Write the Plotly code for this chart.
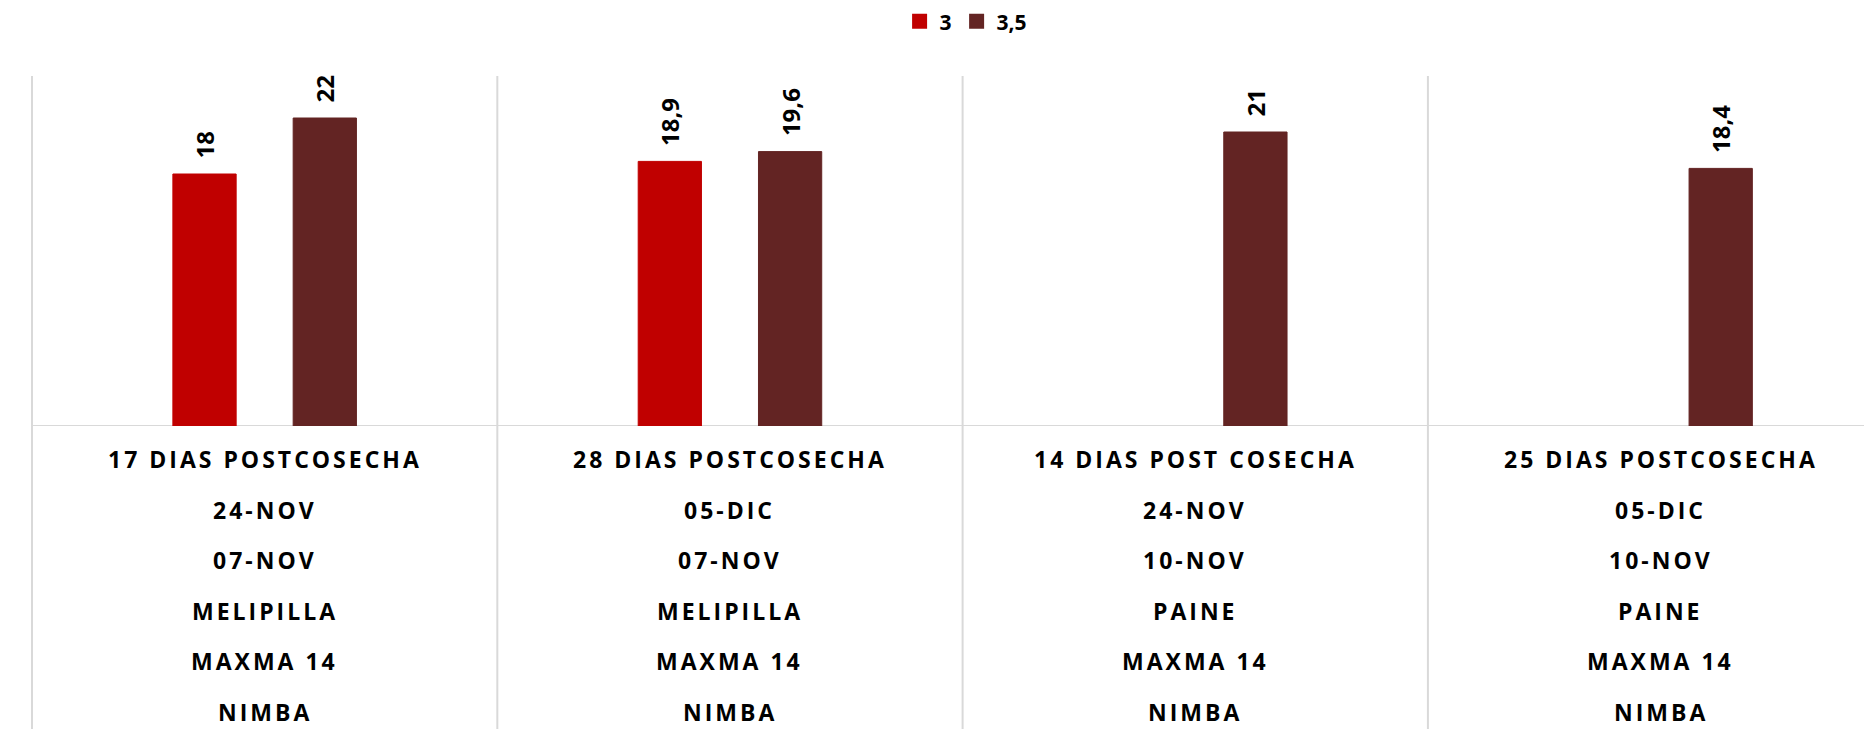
import plotly.graph_objects as go

# categorias (eje x) y filas de descripcion bajo cada grupo
categorias = ["17 DIAS POSTCOSECHA", "28 DIAS POSTCOSECHA", "14 DIAS POST COSECHA", "25 DIAS POSTCOSECHA"]
fecha_evaluacion = ["24-NOV", "05-DIC", "24-NOV", "05-DIC"]
fecha_cosecha = ["07-NOV", "07-NOV", "10-NOV", "10-NOV"]
localidad = ["MELIPILLA", "MELIPILLA", "PAINE", "PAINE"]
portainjerto = ["MAXMA 14", "MAXMA 14", "MAXMA 14", "MAXMA 14"]
variedad = ["NIMBA", "NIMBA", "NIMBA", "NIMBA"]

series_nombres = ["3", "3,5"]
valores_3 = [18, 18.9, None, None]
valores_35 = [22, 19.6, 21, 18.4]

colores = ["#C00000", "#632423"]
FONT = "Open Sans"


def etiqueta(v):
    if v is None:
        return ""
    # espacios al inicio para separar el texto de la barra
    return "\u00a0\u00a0" + f"{v:g}".replace(".", ",")


fig = go.Figure()
for nombre, valores, color in zip(series_nombres, [valores_3, valores_35], colores):
    fig.add_trace(go.Bar(
        x=categorias,
        y=valores,
        name=nombre,
        showlegend=False,
        marker=dict(color=color, line=dict(color=color, width=1)),
        text=[etiqueta(v) for v in valores],
        textposition="outside",
        textangle=-90,
        textfont=dict(family=FONT, size=24, color="black", weight="bold"),
        cliponaxis=False,
    ))
    # entrada de leyenda con cuadrado mas grande
    fig.add_trace(go.Scatter(
        x=[None], y=[None], mode="markers", name=nombre,
        marker=dict(symbol="square", size=15, color=color),
    ))

# lineas divisorias entre grupos (se extienden hasta el borde inferior)
linea = dict(color="#d9d9d9", width=2)
shapes = []
for i in range(len(categorias) + 1):
    shapes.append(dict(type="line", xref="x", yref="paper", x0=i - 0.5, x1=i - 0.5,
                       y0=-1, y1=1, line=linea, layer="below"))
shapes.append(dict(type="line", xref="x", yref="y", x0=-0.5, x1=len(categorias) - 0.5,
                   y0=0, y1=0, line=linea, layer="below"))

# filas de texto bajo el eje
filas = [categorias, fecha_evaluacion, fecha_cosecha, localidad, portainjerto, variedad]
annotations = []
for r, fila in enumerate(filas):
    for cat, txt in zip(categorias, fila):
        annotations.append(dict(
            x=cat, xref="x", y=0, yref="paper", yanchor="middle",
            yshift=-(33 + 50.6 * r), showarrow=False,
            text='<span style="letter-spacing:3px">' + txt + '</span>',
            font=dict(family=FONT, size=23, color="black", weight="bold"),
        ))

fig.update_layout(
    width=1864,
    height=721,
    margin=dict(l=12, r=0, t=68, b=303),
    paper_bgcolor="white",
    plot_bgcolor="white",
    barmode="group",
    bargap=0.483,
    bargroupgap=0.474,
    font=dict(family=FONT, color="black"),
    xaxis=dict(type="category", range=[-0.5258, 3.4544], showticklabels=False,
               showgrid=False, zeroline=False, showline=False, ticks=""),
    yaxis=dict(range=[0, 25], visible=False),
    legend=dict(orientation="h", xref="container", yref="container",
                x=0.514, xanchor="center", y=0.981, yanchor="middle",
                itemwidth=30,
                font=dict(family=FONT, size=21, color="black", weight="bold")),
    shapes=shapes,
    annotations=annotations,
)

fig.write_html("out.html")
